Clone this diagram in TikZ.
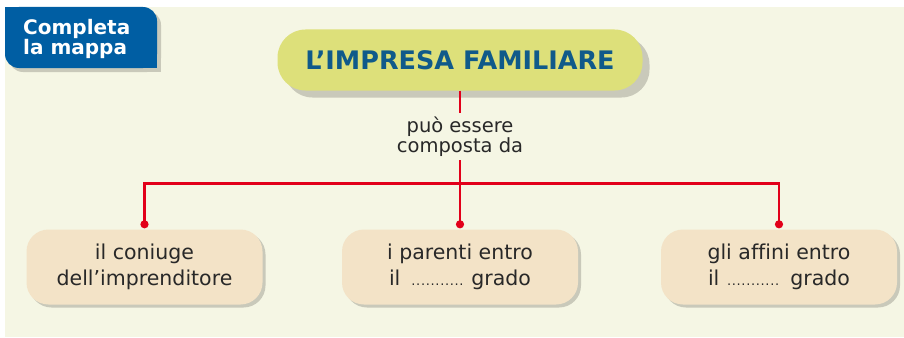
\documentclass[tikz,border=0pt]{standalone}
\usepackage{fontspec}
\setmainfont[Ligatures=NoCommon]{DejaVu Sans}
\usetikzlibrary{arrows.meta, positioning, shadows}
\definecolor{color_fondo}{RGB}{245,246,228}
\definecolor{color_tab}{RGB}{0,94,163}
\definecolor{color_titulo}{RGB}{221,224,122}
\definecolor{color_titxt}{RGB}{16,90,138}
\definecolor{color_caja}{RGB}{243,227,199}
\definecolor{color_sombra}{RGB}{201,201,186}
\definecolor{color_rojo}{RGB}{226,0,26}
\definecolor{color_texto}{RGB}{40,40,40}
\newcommand{\puntini}{{\fontsize{13}{13}\selectfont\leaders\hbox to 4.8pt{\hss.\hss}\hskip 58pt}}

\begin{document}
\begin{tikzpicture}[x=1pt, y=-1pt,
  titulo/.style={rounded corners=28pt, fill=color_titulo, minimum width=365pt,
    minimum height=61pt, inner sep=0pt, text=color_titxt,
    font=\fontsize{25.5}{28}\selectfont\bfseries,
    drop shadow={shadow xshift=7pt, shadow yshift=-7pt, opacity=1, fill=color_sombra}},
  concepto/.style={rounded corners=22pt, fill=color_caja, minimum width=236pt,
    minimum height=75pt, inner sep=0pt, align=center, text=color_texto,
    font=\fontsize{20.5}{26}\selectfont,
    drop shadow={shadow xshift=3pt, shadow yshift=-3pt, opacity=1, fill=color_sombra}},
  enlace/.style={draw=color_rojo, line width=2.8pt},
  punto/.style={-{Circle[length=8pt]}, shorten >=1pt}]

  \useasboundingbox (0,0) rectangle (904,337);
  \fill[color_fondo] (5,7) rectangle (904,337);

  % LINGUETTA
  \fill[color_sombra, rounded corners=14pt] (9,11) rectangle (161,72);
  \fill[color_sombra] (141,52) rectangle (161,72);
  \fill[color_tab, rounded corners=14pt] (5,7) rectangle (157,68);
  \fill[color_tab] (5,7) rectangle (25,30);
  \fill[color_tab] (137,48) rectangle (157,68);
  \node[anchor=north west, inner sep=0pt, align=left, text=white,
    font=\fontsize{20}{20}\selectfont\bfseries] (tab) at (23,19) {Completa\\la mappa};

  % CONCETTO CENTRALE
  \node[titulo] (title) at (460,60) {L’IMPRESA FAMILIARE};
  \node[below=22pt of title, inner sep=0pt, minimum height=47pt, align=center,
    text=color_texto, font=\fontsize{19.5}{20}\selectfont] (via) {può essere\\composta da};
  \coordinate[below=23pt of via] (fork);

  % CONCETTI
  \node[concepto] (coniuge) at (144.5,267) {il coniuge\\dell’imprenditore};
  \node[concepto] (parenti) at (460,267) {i parenti entro\\il \puntini{} grado};
  \node[concepto] (affini) at (779,267) {gli affini entro\\il \puntini{} grado};

  % COLLEGAMENTI
  \draw[enlace] (title.south) -- (via.north);
  \draw[enlace] (via.south) -- (fork);
  \draw[enlace, punto] (fork) -| (coniuge.north);
  \draw[enlace, punto] (fork) -- (parenti.north);
  \draw[enlace, punto] (fork) -| (affini.north);

\end{tikzpicture}
\end{document}
